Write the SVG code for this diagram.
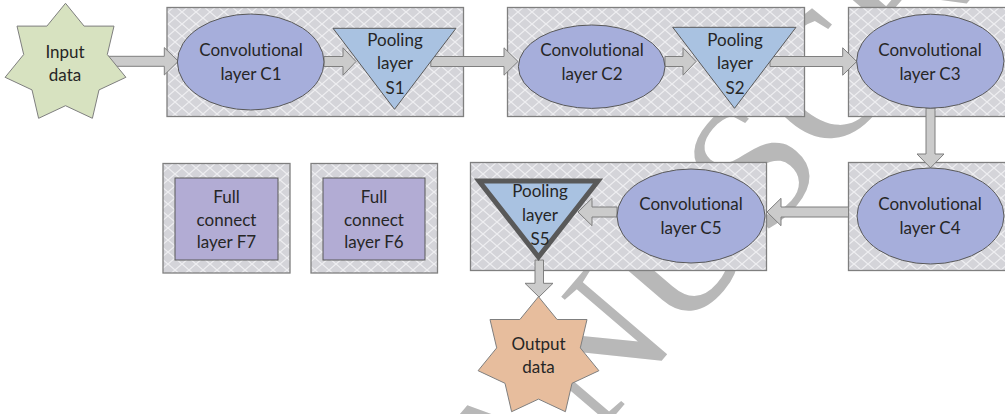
<svg xmlns="http://www.w3.org/2000/svg" width="1005" height="414" viewBox="0 0 1005 414">
  <defs>
    <!-- diamond lattice fill used by the layer group panels -->
    <pattern id="lattice" patternUnits="userSpaceOnUse" width="14" height="12">
      <rect width="14" height="12" fill="#d4d4d9"/>
      <path d="M0,0 L14,12 M14,0 L0,12" stroke="#eeeef1" stroke-width="1.3" fill="none"/>
    </pattern>
    <!-- 7-point star, centred on 0,0 -->
    <path id="star7" d="M0,-60.5 L18.6,-37.7 L48.5,-37.7 L41.8,-9.3 L60.4,13.5 L33.5,26.1 L26.9,54.5 L0,41.9 L-26.9,54.5 L-33.5,26.1 L-60.4,13.5 L-41.8,-9.3 L-48.5,-37.7 L-18.6,-37.7 Z"/>
    <clipPath id="page"><rect width="1005" height="414"/></clipPath>
  </defs>
  <style>
    .panel { fill: url(#lattice); stroke: #7f7f7f; stroke-width: 1.3; }
    .conv { fill: #a6aedb; stroke: #595959; stroke-width: 1; }
    .pool { fill: #a9c2e1; stroke: #595959; stroke-width: 1; }
    .pool-bold { fill: #a9c2e1; stroke: #595959; stroke-width: 5; stroke-linejoin: miter; }
    .full { fill: #b2acd4; stroke: #595959; stroke-width: 1; }
    .star-in { fill: #d7e2c0; stroke: #7f7f7f; stroke-width: 1; }
    .star-out { fill: #e7bd9d; stroke: #7f7f7f; stroke-width: 1; }
    .arrow { fill: #cbcbcb; stroke: #7f7f7f; stroke-width: 1; stroke-linejoin: miter; }
    .lbl { font-family: Lato, "Liberation Sans", sans-serif; font-size: 17px; fill: #262626; text-anchor: middle; font-variant-ligatures: none; }
    .wm { font-family: "Liberation Serif", "Times New Roman", serif; font-size: 180px; fill: #b8b8b8; }
  </style>

  <rect width="1005" height="414" fill="#ffffff"/>

  <!-- background stamp -->
  <g clip-path="url(#page)">
    <text class="wm" transform="translate(407,659) rotate(-49.5)">MANUSCRIPT</text>
  </g>

  <!-- group panels -->
  <g id="panels">
    <rect class="panel" x="167" y="7.5" width="296.5" height="109"/>
    <rect class="panel" x="507.5" y="7.5" width="297" height="109"/>
    <rect class="panel" x="848.5" y="7.5" width="162" height="109"/>
    <rect class="panel" x="163" y="163.5" width="127" height="109.5"/>
    <rect class="panel" x="311" y="163.5" width="126.5" height="109.5"/>
    <rect class="panel" x="470.5" y="162.5" width="296" height="108"/>
    <rect class="panel" x="848.5" y="162.5" width="162" height="108"/>
  </g>

  <!-- connectors -->
  <g id="connectors">
    <!-- input -> C1 -->
    <path class="arrow" d="M108,56.3 L164.3,56.3 L164.3,47.6 L178.3,61.3 L164.3,75 L164.3,66.3 L108,66.3 Z"/>
    <!-- C1 -> S1 -->
    <path class="arrow" d="M324,56.5 L343,56.5 L343,47.8 L356,61.5 L343,75.2 L343,66.5 L324,66.5 Z"/>
    <!-- S1 -> C2 -->
    <path class="arrow" d="M430.8,56.5 L504,56.5 L504,47.8 L518,61.5 L504,75.2 L504,66.5 L430.8,66.5 Z"/>
    <!-- C2 -> S2 -->
    <path class="arrow" d="M665,56.5 L683,56.5 L683,47.8 L696,61.5 L683,75.2 L683,66.5 L665,66.5 Z"/>
    <!-- S2 -> C3 -->
    <path class="arrow" d="M770,56.5 L842.7,56.5 L842.7,47.8 L856.7,61.5 L842.7,75.2 L842.7,66.5 L770,66.5 Z"/>
    <!-- C3 -> C4 -->
    <path class="arrow" d="M926,108 L926,154 L917,154 L930.5,167.8 L944,154 L935,154 L935,108 Z"/>
    <!-- C4 -> C5 -->
    <path class="arrow" d="M848.5,207 L781,207 L781,198.3 L767,212 L781,225.7 L781,217 L848.5,217 Z"/>
    <!-- C5 -> S5 -->
    <path class="arrow" d="M617,207 L592,207 L592,198.3 L578,212 L592,225.7 L592,217 L617,217 Z"/>
    <!-- S5 -> output -->
    <path class="arrow" d="M535,260 L535,283.3 L525,283.3 L539,297 L553,283.3 L543.5,283.3 L543.5,260 Z"/>
  </g>

  <g id="input">
    <use href="#star7" class="star-in" transform="translate(65.5,63.8)"/>
    <text class="lbl"><tspan x="65" y="57.5">Input</tspan><tspan x="65" y="80.5">data</tspan></text>
  </g>

  <g id="conv-c1">
    <ellipse class="conv" cx="250.7" cy="62" rx="73.3" ry="48"/>
    <text class="lbl"><tspan x="251" y="56">Convolutional</tspan><tspan x="251" y="80">layer C1</tspan></text>
  </g>

  <g id="pool-s1">
    <polygon class="pool" points="333,28.3 456,28.3 394.5,109.3"/>
    <text class="lbl"><tspan x="395" y="45.5">Pooling</tspan><tspan x="395" y="69">layer</tspan><tspan x="395" y="93.5">S1</tspan></text>
  </g>

  <g id="conv-c2">
    <ellipse class="conv" cx="591.7" cy="66.7" rx="73.3" ry="41.7"/>
    <text class="lbl"><tspan x="592" y="56">Convolutional</tspan><tspan x="592" y="80">layer C2</tspan></text>
  </g>

  <g id="pool-s2">
    <polygon class="pool" points="672.7,27.3 796,27.3 734.5,108.3"/>
    <text class="lbl"><tspan x="735" y="45.5">Pooling</tspan><tspan x="735" y="69">layer</tspan><tspan x="735" y="93.5">S2</tspan></text>
  </g>

  <g id="conv-c3">
    <ellipse class="conv" cx="930.3" cy="61.2" rx="73.7" ry="47"/>
    <text class="lbl"><tspan x="930" y="56">Convolutional</tspan><tspan x="930" y="80">layer C3</tspan></text>
  </g>

  <g id="conv-c4">
    <ellipse class="conv" cx="930.5" cy="216" rx="73.5" ry="48"/>
    <text class="lbl"><tspan x="930" y="210">Convolutional</tspan><tspan x="930" y="234">layer C4</tspan></text>
  </g>

  <g id="conv-c5">
    <ellipse class="conv" cx="691" cy="216" rx="74" ry="47"/>
    <text class="lbl"><tspan x="691" y="210">Convolutional</tspan><tspan x="691" y="234">layer C5</tspan></text>
  </g>

  <g id="pool-s5">
    <polygon class="pool-bold" points="479,181 598,181 538.5,257"/>
    <text class="lbl"><tspan x="540" y="197">Pooling</tspan><tspan x="540" y="220.5">layer</tspan><tspan x="540" y="244.5">S5</tspan></text>
  </g>

  <g id="full-f7">
    <rect class="full" x="175" y="178" width="103" height="82"/>
    <text class="lbl"><tspan x="226.5" y="203">Full</tspan><tspan x="226.5" y="225.5">connect</tspan><tspan x="226.5" y="248">layer F7</tspan></text>
  </g>

  <g id="full-f6">
    <rect class="full" x="323" y="178" width="102" height="82"/>
    <text class="lbl"><tspan x="374" y="203">Full</tspan><tspan x="374" y="225.5">connect</tspan><tspan x="374" y="248">layer F6</tspan></text>
  </g>

  <g id="output">
    <use href="#star7" class="star-out" transform="translate(538.5,357.2)"/>
    <text class="lbl"><tspan x="538.5" y="349.5">Output</tspan><tspan x="538.5" y="372.5">data</tspan></text>
  </g>
</svg>
